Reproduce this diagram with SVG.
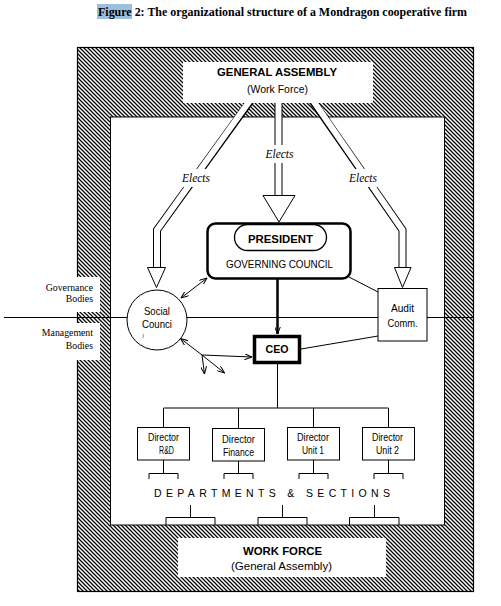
<svg xmlns="http://www.w3.org/2000/svg" width="501" height="606" viewBox="0 0 501 606">
<style>
.sans{font-family:"Liberation Sans",Arial,sans-serif;fill:#000}
.serif{font-family:"Liberation Serif","Times New Roman",serif;fill:#000}
.ln{stroke:#000;stroke-width:1;fill:none}
.box{fill:#fff;stroke:#000;stroke-width:1}
.dbl{fill:none;stroke:#000;stroke-width:8;stroke-linejoin:miter}
.dblw{fill:none;stroke:#fff;stroke-width:6;stroke-linejoin:miter}
.head{fill:#fff;stroke:#000;stroke-width:1}
.arr{stroke:#000;stroke-width:1;fill:none}
.bg{fill:#fff}
</style>
<defs>
<pattern id="hatch" patternUnits="userSpaceOnUse" width="4" height="4">
<rect width="4" height="4" fill="#fff"/>
<path d="M-1,-1 L5,5 M-1,3 L1,5 M3,-1 L5,1" stroke="#000" stroke-width="1.25"/>
</pattern>
<marker id="v" viewBox="0 0 8 6" refX="7.5" refY="3" markerWidth="8" markerHeight="6" markerUnits="userSpaceOnUse" orient="auto-start-reverse">
<path d="M0,0 L7.5,3 L0,6" fill="none" stroke="#000" stroke-width="1"/>
</marker>
</defs>
<rect width="501" height="606" fill="#fff"/>
<g id="title">
<rect x="97" y="4" width="35" height="15" fill="#9dbfdd"/>
<text class="serif" x="98" y="16" font-size="12" font-weight="bold" textLength="369" lengthAdjust="spacingAndGlyphs">Figure 2: The organizational structure of a Mondragon cooperative firm</text>
</g>
<g id="frame">
<rect x="77.5" y="47.5" width="396" height="544" fill="url(#hatch)" stroke="#000" stroke-width="1.2"/>
<rect x="110.5" y="117" width="334" height="408" fill="#fff" stroke="#000" stroke-width="1"/>
<rect x="76" y="277" width="24" height="35" fill="#fff"/>
<rect x="76" y="323" width="24" height="37" fill="#fff"/>
</g>
<g id="level-labels">
<text class="serif" font-size="9.8" text-anchor="end" x="93" y="291">Governance</text>
<text class="serif" font-size="9.8" text-anchor="end" x="93" y="302">Bodies</text>
<text class="serif" font-size="9.8" text-anchor="end" x="93" y="336">Management</text>
<text class="serif" font-size="9.8" text-anchor="end" x="93" y="349">Bodies</text>
</g>
<g id="connectors">
<line class="ln" x1="4" y1="317.5" x2="474" y2="317.5"/>
<path class="dbl" d="M251,100 L157,230 L157,268"/>
<path class="dblw" d="M251,99 L157,230 L157,269"/>
<path class="dbl" d="M312,100 L402.5,230 L402.5,268"/>
<path class="dblw" d="M312,99 L402.5,230 L402.5,269"/>
<path class="dbl" d="M278.5,100 L278.5,196"/>
<path class="dblw" d="M278.5,99 L278.5,197"/>
<polygon class="head" points="263,195.5 295,195.5 279,222"/>
<polygon class="head" points="147.5,267.5 165.5,267.5 156.5,287.5"/>
<polygon class="head" points="394.5,267.5 411,267.5 402.5,287.5"/>
<line x1="277.5" y1="279" x2="277.5" y2="334" stroke="#000" stroke-width="2.5" marker-end="url(#v)"/>
<line class="arr" x1="181" y1="298" x2="207" y2="278" marker-start="url(#v)" marker-end="url(#v)"/>
<line class="arr" x1="202" y1="355" x2="180.5" y2="338.5" marker-end="url(#v)"/>
<line class="arr" x1="202" y1="355" x2="252" y2="357" marker-end="url(#v)"/>
<line class="arr" x1="202" y1="355" x2="204.5" y2="374" marker-end="url(#v)"/>
<line class="arr" x1="202" y1="355" x2="224.5" y2="373" marker-end="url(#v)"/>
<line class="ln" x1="349" y1="277" x2="378" y2="292"/>
<line class="ln" x1="301" y1="349" x2="378" y2="336"/>
<path class="ln" d="M277.5,364 L277.5,408 M163.5,408 L388.5,408 M163.5,408 L163.5,427 M238.5,408 L238.5,428 M313.5,408 L313.5,427 M388.5,408 L388.5,427"/>
<path class="ln" d="M163.5,460 V473.5 M149,479 V473.5 H178 V479 M238.5,461 V473.5 M224,479 V473.5 H253 V479 M313.5,460 V473.5 M299,479 V473.5 H328 V479 M388.5,460 V473.5 M374,479 V473.5 H403 V479"/>
<path class="ln" d="M190.5,505 V517.5 M166,525 V517.5 H215 V525 M282.5,505 V517.5 M258,525 V517.5 H307 V525 M374.5,505 V517.5 M349.5,525 V517.5 H399 V525"/>
</g>
<g id="elects-labels">
<rect class="bg" x="181" y="169" width="31" height="18"/>
<rect class="bg" x="263" y="145" width="33" height="18"/>
<rect class="bg" x="347" y="169" width="32" height="18"/>
<text class="serif" font-style="italic" font-size="11.5" x="196" y="182" text-anchor="middle">Elects</text>
<text class="serif" font-style="italic" font-size="11.5" x="279.5" y="158" text-anchor="middle">Elects</text>
<text class="serif" font-style="italic" font-size="11.5" x="363" y="182" text-anchor="middle">Elects</text>
</g>
<g id="general-assembly">
<rect x="183" y="62" width="190" height="41" fill="#fff"/>
<text class="sans" x="277" y="76" font-size="11.3" font-weight="bold" text-anchor="middle" textLength="120" lengthAdjust="spacingAndGlyphs">GENERAL ASSEMBLY</text>
<text class="sans" x="277.5" y="93" font-size="11" text-anchor="middle" textLength="61" lengthAdjust="spacingAndGlyphs">(Work Force)</text>
</g>
<g id="president">
<rect x="207.5" y="223.5" width="143" height="55" rx="8" fill="#fff" stroke="#000" stroke-width="2.5"/>
<rect x="234.5" y="224.5" width="92" height="26" rx="13" fill="#fff" stroke="#000" stroke-width="1.3"/>
<text class="sans" x="280.5" y="243" font-size="11.5" font-weight="bold" text-anchor="middle" textLength="65" lengthAdjust="spacingAndGlyphs">PRESIDENT</text>
<text class="sans" x="279.5" y="268" font-size="10.5" text-anchor="middle" textLength="107" lengthAdjust="spacingAndGlyphs">GOVERNING COUNCIL</text>
</g>
<g id="social-council">
<circle cx="157" cy="320" r="30" fill="#fff" stroke="#000" stroke-width="1"/>
<text class="sans" x="157" y="315" font-size="10.5" text-anchor="middle" textLength="26" lengthAdjust="spacingAndGlyphs">Social</text>
<text class="sans" x="157" y="328" font-size="10.5" text-anchor="middle" textLength="30" lengthAdjust="spacingAndGlyphs">Counci</text>
<text class="sans" x="143" y="338" font-size="5.5" text-anchor="middle">l</text>
</g>
<g id="audit-comm">
<rect class="box" x="378" y="288.5" width="49" height="52.5"/>
<text class="sans" x="402.5" y="312" font-size="10" text-anchor="middle" textLength="23" lengthAdjust="spacingAndGlyphs">Audit</text>
<text class="sans" x="402.5" y="327" font-size="10" text-anchor="middle" textLength="30" lengthAdjust="spacingAndGlyphs">Comm.</text>
</g>
<g id="ceo">
<rect x="254.5" y="336.5" width="45" height="26" fill="#fff" stroke="#000" stroke-width="3.5"/>
<text class="sans" x="277" y="353" font-size="10.8" font-weight="bold" text-anchor="middle" textLength="23" lengthAdjust="spacingAndGlyphs">CEO</text>
</g>
<g id="director-rd">
<rect class="box" x="137.5" y="427.5" width="52" height="32.5"/>
<text class="sans" x="163.5" y="441" font-size="10" text-anchor="middle" textLength="31" lengthAdjust="spacingAndGlyphs">Director</text>
<text class="sans" x="166.5" y="454" font-size="10" text-anchor="middle" textLength="15" lengthAdjust="spacingAndGlyphs">R&amp;D</text>
</g>
<g id="director-finance">
<rect class="box" x="212.5" y="428.5" width="52" height="32.5"/>
<text class="sans" x="238.5" y="442.5" font-size="10" text-anchor="middle" textLength="33" lengthAdjust="spacingAndGlyphs">Director</text>
<text class="sans" x="238.5" y="456" font-size="10" text-anchor="middle" textLength="31" lengthAdjust="spacingAndGlyphs">Finance</text>
</g>
<g id="director-unit1">
<rect class="box" x="287.5" y="427.5" width="52" height="32.5"/>
<text class="sans" x="313" y="441" font-size="10" text-anchor="middle" textLength="32" lengthAdjust="spacingAndGlyphs">Director</text>
<text class="sans" x="313" y="454" font-size="10" text-anchor="middle" textLength="22" lengthAdjust="spacingAndGlyphs">Unit 1</text>
</g>
<g id="director-unit2">
<rect class="box" x="362.5" y="427.5" width="52" height="32.5"/>
<text class="sans" x="387.5" y="441" font-size="10" text-anchor="middle" textLength="31" lengthAdjust="spacingAndGlyphs">Director</text>
<text class="sans" x="387.5" y="454" font-size="10" text-anchor="middle" textLength="23" lengthAdjust="spacingAndGlyphs">Unit 2</text>
</g>
<g id="departments">
<text class="sans" x="154" y="497" font-size="10.5" textLength="236" lengthAdjust="spacing">DEPARTMENTS &amp; SECTIONS</text>
</g>
<g id="work-force">
<rect x="178" y="538" width="208" height="39" fill="#fff"/>
<text class="sans" x="282.5" y="555" font-size="11.4" font-weight="bold" text-anchor="middle" textLength="79" lengthAdjust="spacingAndGlyphs">WORK FORCE</text>
<text class="sans" x="281.5" y="570" font-size="11" text-anchor="middle" textLength="101" lengthAdjust="spacingAndGlyphs">(General Assembly)</text>
</g>
</svg>
